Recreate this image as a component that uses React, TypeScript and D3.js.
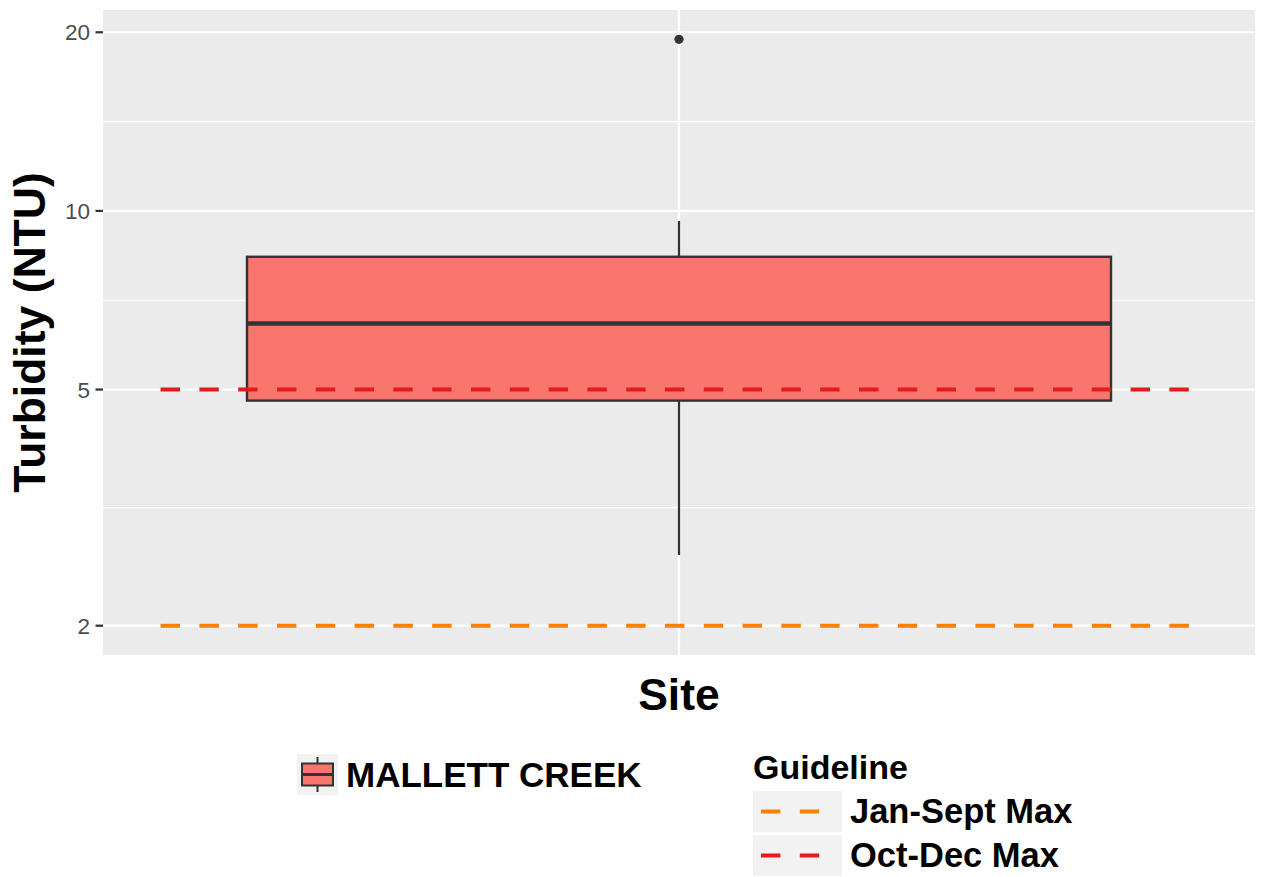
import React from 'react';
import * as d3 from 'd3';

// box stats per site (Turbidity, NTU)
const sites = ['MALLETT CREEK'];
const lowerWhisker = [2.63];
const q1 = [4.79];
const median = [6.46];
const q3 = [8.37];
const upperWhisker = [9.62];
const outliers = [[19.46]];

// guideline hlines
const guideNames = ['Jan-Sept Max', 'Oct-Dec Max'];
const guideValues = [2, 5];
const guideColors = ['#ff7f00', '#e41a1c'];
const guideStart = 0.46;
const guideEnd = 1.54;

const yTicks = [2, 5, 10, 20];

const FONT = 'Liberation Sans, Arial, Helvetica, sans-serif';

const App = () => {
  const Width = 1264;
  const Height = 877;
  const panel = { left: 103, right: 1255, top: 10, bottom: 655 };

  const allVals = [...lowerWhisker, ...upperWhisker, ...outliers.flat(), ...guideValues];
  const lo = Math.log10(d3.min(allVals));
  const hi = Math.log10(d3.max(allVals));
  const pad = (hi - lo) * 0.05;

  const yScale = d3
    .scaleLog()
    .domain([Math.pow(10, lo - pad), Math.pow(10, hi + pad)])
    .range([panel.bottom, panel.top]);

  const xScale = d3
    .scaleLinear()
    .domain([0.4, sites.length + 0.6])
    .range([panel.left, panel.right]);

  const boxHalf = xScale(1.45) - xScale(1);

  const minorTicks = yTicks.slice(1).map((t, i) => Math.sqrt(t * yTicks[i]));

  const dash = '19.4 19.4';

  return (
    <svg width={Width} height={Height} style={{ position: 'absolute', left: 0, top: 0, background: '#fff' }}>
      {/* panel */}
      <rect x={panel.left} y={panel.top} width={panel.right - panel.left} height={panel.bottom - panel.top} fill="#ebebeb" />
      {minorTicks.map((t, i) => (
        <line key={'mn' + i} x1={panel.left} x2={panel.right} y1={yScale(t)} y2={yScale(t)} stroke="#fff" strokeWidth={1.1} />
      ))}
      {yTicks.map((t) => (
        <line key={'mj' + t} x1={panel.left} x2={panel.right} y1={yScale(t)} y2={yScale(t)} stroke="#fff" strokeWidth={2.2} />
      ))}
      {sites.map((s, i) => (
        <line key={'vx' + s} x1={xScale(i + 1)} x2={xScale(i + 1)} y1={panel.top} y2={panel.bottom} stroke="#fff" strokeWidth={2.2} />
      ))}

      {/* boxes */}
      {sites.map((s, i) => {
        const cx = xScale(i + 1);
        return (
          <g key={s}>
            <line x1={cx} x2={cx} y1={yScale(q3[i])} y2={yScale(upperWhisker[i])} stroke="#333" strokeWidth={2.2} />
            <line x1={cx} x2={cx} y1={yScale(q1[i])} y2={yScale(lowerWhisker[i])} stroke="#333" strokeWidth={2.2} />
            <rect
              x={cx - boxHalf}
              y={yScale(q3[i])}
              width={boxHalf * 2}
              height={yScale(q1[i]) - yScale(q3[i])}
              fill="#F8766D"
              stroke="#333"
              strokeWidth={2.4}
            />
            <line x1={cx - boxHalf} x2={cx + boxHalf} y1={yScale(median[i])} y2={yScale(median[i])} stroke="#333" strokeWidth={4.6} />
            {outliers[i].map((v, j) => (
              <circle key={j} cx={cx} cy={yScale(v)} r={4.6} fill="#333" />
            ))}
          </g>
        );
      })}

      {/* guidelines */}
      {guideValues.map((v, i) => (
        <line
          key={guideNames[i]}
          x1={xScale(guideStart)}
          x2={xScale(guideEnd)}
          y1={yScale(v)}
          y2={yScale(v)}
          stroke={guideColors[i]}
          strokeWidth={4}
          strokeDasharray={dash}
        />
      ))}

      {/* y axis */}
      {yTicks.map((t) => (
        <g key={'yt' + t}>
          <line x1={panel.left - 7.5} x2={panel.left} y1={yScale(t)} y2={yScale(t)} stroke="#333" strokeWidth={2.2} />
          <text x={panel.left - 13} y={yScale(t)} dy="0.36em" textAnchor="end" fill="#4d4d4d" style={{ fontFamily: FONT, fontSize: '22.5px' }}>
            {t}
          </text>
        </g>
      ))}
      <text
        transform={`translate(45, ${(panel.top + panel.bottom) / 2}) rotate(-90)`}
        textAnchor="middle"
        style={{ fontFamily: FONT, fontSize: '44.5px', fontWeight: 'bold' }}
      >
        Turbidity (NTU)
      </text>

      {/* x axis */}
      <text x={(panel.left + panel.right) / 2} y={710} textAnchor="middle" style={{ fontFamily: FONT, fontSize: '44.5px', fontWeight: 'bold' }}>
        Site
      </text>

      {/* legend: site */}
      <g transform="translate(297, 754)">
        <rect x={0} y={0} width={41} height={41} fill="#f2f2f2" />
        <line x1={20.5} x2={20.5} y1={3} y2={38} stroke="#333" strokeWidth={2} />
        <rect x={5} y={9.5} width={31} height={22} fill="#F8766D" stroke="#333" strokeWidth={2} />
        <line x1={5} x2={36} y1={20.5} y2={20.5} stroke="#333" strokeWidth={3} />
        <text x={49} y={33} style={{ fontFamily: FONT, fontSize: '35px', fontWeight: 'bold' }}>
          {sites[0]}
        </text>
      </g>

      {/* legend: guideline */}
      <g transform="translate(753, 779)">
        <text x={0} y={0} style={{ fontFamily: FONT, fontSize: '34px', fontWeight: 'bold' }}>
          Guideline
        </text>
        {guideNames.map((n, i) => (
          <g key={n} transform={`translate(0, ${12 + i * 44})`}>
            <rect x={0} y={0} width={89} height={41} fill="#f2f2f2" />
            <line x1={8} x2={70} y1={20.5} y2={20.5} stroke={guideColors[i]} strokeWidth={4} strokeDasharray={dash} />
            <text x={97} y={32} style={{ fontFamily: FONT, fontSize: '34.5px', fontWeight: 'bold' }}>
              {n}
            </text>
          </g>
        ))}
      </g>
    </svg>
  );
};

export default App;
